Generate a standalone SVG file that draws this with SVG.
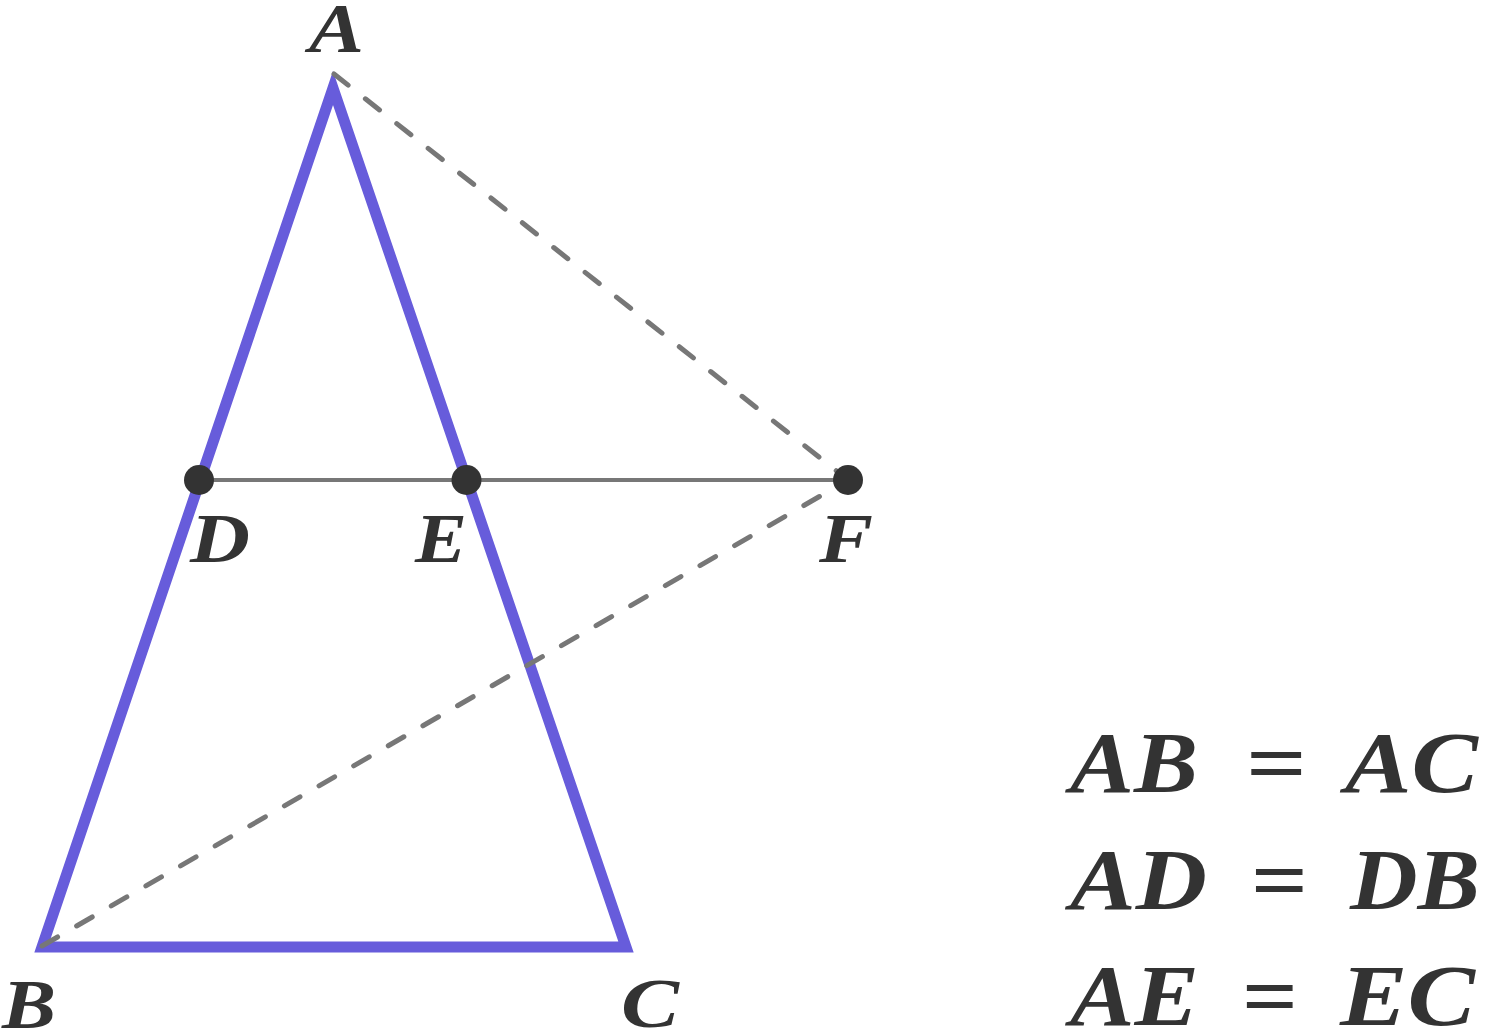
<svg xmlns="http://www.w3.org/2000/svg" width="1485" height="1033" viewBox="0 0 1485 1033">
<style>
.lbl{font-family:"Liberation Serif","Times New Roman",serif;font-style:italic;font-weight:bold;fill:#333;font-size:70px}
.eq{font-family:"Liberation Serif","Times New Roman",serif;font-style:italic;font-weight:bold;fill:#333;font-size:86px}
.eqs{font-family:"Liberation Serif","Times New Roman",serif;font-weight:bold;fill:#333;font-size:86px}
.dash{stroke:#777;stroke-width:5;stroke-linecap:round;stroke-dasharray:18 22;fill:none}
.pt{fill:#333}
</style>
<rect width="1485" height="1033" fill="#fff"/>
<g id="triangle">
<polygon points="333,88 42,947 626,947" fill="none" stroke="#675cdb" stroke-width="11" stroke-linejoin="miter" stroke-miterlimit="10"/>
</g>
<g id="connectors">
<line x1="199" y1="480" x2="848" y2="480" stroke="#777" stroke-width="4"/>
<line class="dash" x1="334" y1="74" x2="848" y2="480"/>
<line class="dash" x1="42" y1="946" x2="848" y2="480"/>
</g>
<g id="point-D"><circle class="pt" cx="199" cy="480" r="15"/><text class="lbl" x="190" y="562" textLength="60" lengthAdjust="spacingAndGlyphs">D</text></g>
<g id="point-E"><circle class="pt" cx="466.5" cy="480" r="15"/><text class="lbl" x="415" y="562" textLength="52" lengthAdjust="spacingAndGlyphs">E</text></g>
<g id="point-F"><circle class="pt" cx="848" cy="480" r="15"/><text class="lbl" x="819" y="562" textLength="54" lengthAdjust="spacingAndGlyphs">F</text></g>
<g id="label-A"><text class="lbl" x="309" y="52" textLength="55" lengthAdjust="spacingAndGlyphs">A</text></g>
<g id="label-B"><text class="lbl" x="2" y="1028" textLength="54" lengthAdjust="spacingAndGlyphs">B</text></g>
<g id="label-C"><text class="lbl" x="621" y="1027" textLength="58" lengthAdjust="spacingAndGlyphs">C</text></g>
<g id="equations">
<text class="eq" x="1070" y="792" textLength="128" lengthAdjust="spacingAndGlyphs">AB</text>
<text class="eqs" x="1246" y="792" textLength="61" lengthAdjust="spacingAndGlyphs">=</text>
<text class="eq" x="1345" y="792" textLength="133" lengthAdjust="spacingAndGlyphs">AC</text>
<text class="eq" x="1070" y="909" textLength="137" lengthAdjust="spacingAndGlyphs">AD</text>
<text class="eqs" x="1251" y="909" textLength="57" lengthAdjust="spacingAndGlyphs">=</text>
<text class="eq" x="1350" y="909" textLength="130" lengthAdjust="spacingAndGlyphs">DB</text>
<text class="eq" x="1070" y="1025" textLength="129" lengthAdjust="spacingAndGlyphs">AE</text>
<text class="eqs" x="1242" y="1025" textLength="56" lengthAdjust="spacingAndGlyphs">=</text>
<text class="eq" x="1340" y="1025" textLength="135" lengthAdjust="spacingAndGlyphs">EC</text>
</g>
</svg>
